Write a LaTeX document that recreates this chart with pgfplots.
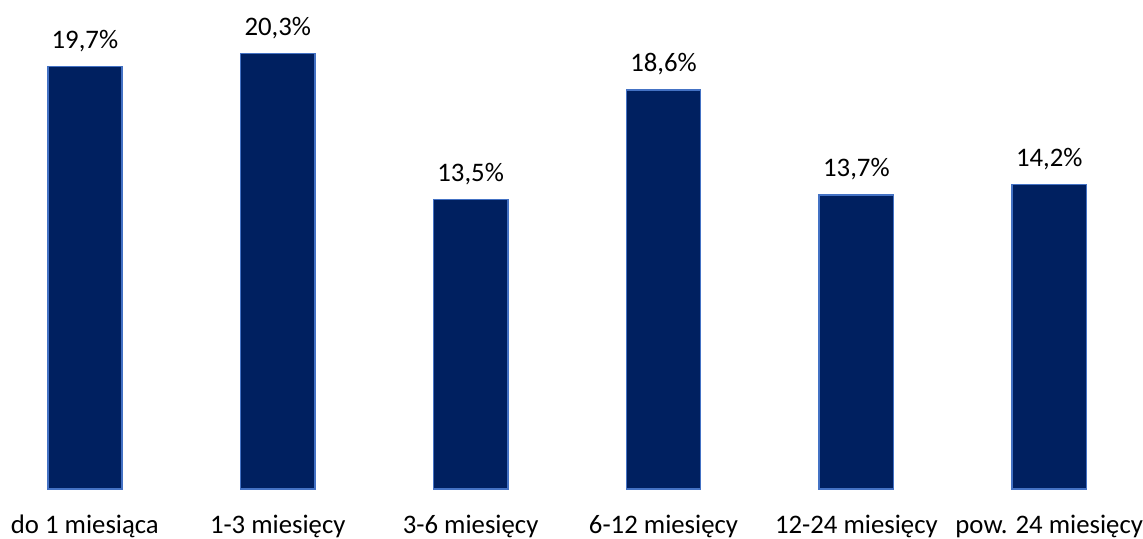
\documentclass[border=0pt]{standalone}
\usepackage{pgfplots}
\pgfplotsset{compat=1.18}
\usepackage{fontspec}
\setmainfont{Carlito}

\definecolor{barfill}{HTML}{002060}
\definecolor{baredge}{HTML}{4472C4}

\begin{document}
\begin{tikzpicture}
\begin{axis}[
    scale only axis,
    width=512.3pt,
    height=219.2pt,
    xmin=-0.44, xmax=5.48,
    ymin=0, ymax=22.79,
    axis line style={draw=none},
    major tick length=0pt,
    ybar,
    bar width=33.3pt,
    xtick={0,1,2,3,4,5},
    xticklabels={do 1 miesiąca, 1-3 miesięcy, 3-6 miesięcy, 6-12 miesięcy, 12-24 miesięcy, pow. 24 miesięcy},
    xticklabel style={inner sep=0pt, yshift=-11.7pt, font=\fontsize{12}{14}\selectfont},
    ytick=\empty,
    clip=false,
    nodes near coords={\pgfmathprintnumber[fixed, fixed zerofill, precision=1, use comma, assume math mode=true]{\pgfplotspointmeta}\%},
    every node near coord/.append style={font=\fontsize{12}{14}\selectfont, yshift=3pt, text=black},
]
\addplot[fill=barfill, draw=baredge, line width=0.7pt]
    coordinates {(0,19.7) (1,20.3) (2,13.5) (3,18.6) (4,13.7) (5,14.2)};
\end{axis}
\end{tikzpicture}
\end{document}
